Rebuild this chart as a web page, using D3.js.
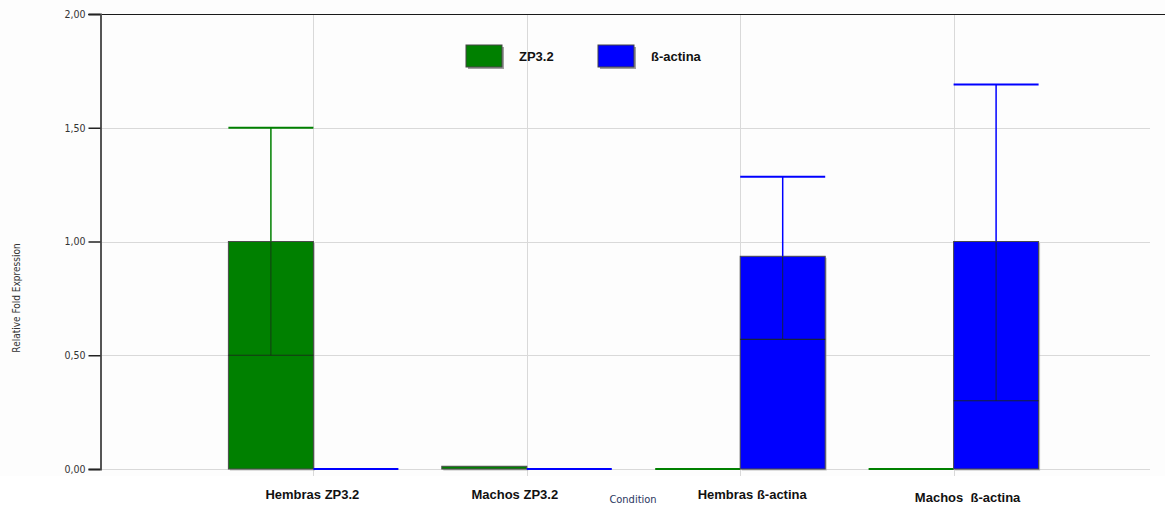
<!DOCTYPE html>
<html>
<head>
<meta charset="utf-8">
<script src="https://cdn.jsdelivr.net/npm/d3@7"></script>
<style>
  body { margin: 0; background: #ffffff; }
  svg { display: block; }
</style>
</head>
<body>
<svg id="chart" width="1165" height="506"></svg>
<script>
// ---- data ----
const categories = ["Hembras ZP3.2", "Machos ZP3.2", "Hembras ß-actina", "Machos  ß-actina"];
const seriesNames = ["ZP3.2", "ß-actina"];
const zp32Values = [1.00, 0.012, 0.0, 0.0];
const zp32ErrUpper = [1.50, null, null, null];
const zp32ErrLower = [0.50, null, null, null];
const actinaValues = [0.0, 0.0, 0.935, 1.00];
const actinaErrUpper = [null, null, 1.285, 1.69];
const actinaErrLower = [null, null, 0.57, 0.30];
const yTicks = [0, 0.5, 1.0, 1.5, 2.0];
const yTickLabels = ["0,00", "0,50", "1,00", "1,50", "2,00"];
const seriesColors = ["#008000", "#0000ff"];

// ---- layout ----
const svg = d3.select("#chart");
const plotLeft = 100, plotRight = 1167, plotTop = 14, plotBottom = 469;
const barW = 85;
// label placement tweaks (layout only) to mirror the original renderer
const labelNudgeX = [-1, -12, 12, 14];
const labelNudgeY = [0, 0, 0, 3];

const x = d3.scalePoint().domain(categories).range([plotLeft, plotRight]).padding(1);
const y = d3.scaleLinear().domain([0, 2]).range([plotBottom, plotTop]);

// plot background
svg.append("rect").attr("x", 0).attr("y", 0).attr("width", 1165).attr("height", 476).attr("fill", "#fdfdfd");

// horizontal gridlines
svg.append("g").selectAll("line").data(yTicks.filter(d => d < 2)).join("line")
  .attr("x1", plotLeft).attr("x2", 1150)
  .attr("y1", d => Math.round(y(d)) + 0.5).attr("y2", d => Math.round(y(d)) + 0.5)
  .attr("stroke", "#d9d9d9").attr("stroke-width", 1);

// vertical gridlines at group centers
svg.append("g").selectAll("line").data(categories).join("line")
  .attr("x1", d => Math.round(x(d)) + 0.5).attr("x2", d => Math.round(x(d)) + 0.5)
  .attr("y1", plotTop).attr("y2", 476)
  .attr("stroke", "#d9d9d9").attr("stroke-width", 1);

// top border
svg.append("line").attr("x1", 88).attr("x2", 1165)
  .attr("y1", plotTop + 0.5).attr("y2", plotTop + 0.5)
  .attr("stroke", "#1a1a1a").attr("stroke-width", 1.2);

// y axis
const yAxis = d3.axisLeft(y).tickValues(yTicks).tickSize(12).tickPadding(3)
  .tickFormat((d, i) => yTickLabels[i]);
const gy = svg.append("g").attr("transform", `translate(${plotLeft + 0.5},0)`).call(yAxis);
gy.select(".domain").attr("stroke", "#555555").attr("stroke-width", 2);
gy.selectAll(".tick line").attr("stroke", "#222222").attr("stroke-width", 1.5);
gy.selectAll(".tick text").attr("fill", "#333333")
  .style("font-family", "'DejaVu Sans Condensed', 'DejaVu Sans', sans-serif").style("font-size", "10.5px");

// bars
const series = [
  { name: seriesNames[0], values: zp32Values, up: zp32ErrUpper, lo: zp32ErrLower, color: seriesColors[0], off: -barW },
  { name: seriesNames[1], values: actinaValues, up: actinaErrUpper, lo: actinaErrLower, color: seriesColors[1], off: 0 }
];

series.forEach(s => {
  const g = svg.append("g");
  categories.forEach((c, i) => {
    const v = s.values[i];
    const x0 = x(c) + s.off;
    const yv = y(v);
    if (v > 0) {
      g.append("rect").attr("x", x0 + 1.5).attr("y", yv + 1.5)
        .attr("width", barW).attr("height", plotBottom - yv)
        .attr("fill", "#9a9a9a").attr("opacity", 0.6);
      g.append("rect").attr("x", x0).attr("y", yv)
        .attr("width", barW).attr("height", Math.max(plotBottom - yv, 1))
        .attr("fill", s.color).attr("stroke", "#4a4a4a").attr("stroke-width", 1);
    } else {
      g.append("line").attr("x1", x0).attr("x2", x0 + barW)
        .attr("y1", plotBottom).attr("y2", plotBottom)
        .attr("stroke", s.color).attr("stroke-width", 2);
    }
    const cx = x0 + barW / 2;
    if (s.up[i] != null) {
      g.append("line").attr("x1", cx).attr("x2", cx).attr("y1", y(s.up[i])).attr("y2", yv)
        .attr("stroke", s.color).attr("stroke-width", 1.5);
      g.append("line").attr("x1", x0).attr("x2", x0 + barW).attr("y1", y(s.up[i])).attr("y2", y(s.up[i]))
        .attr("stroke", s.color).attr("stroke-width", 2);
    }
    if (s.lo[i] != null) {
      g.append("line").attr("x1", cx).attr("x2", cx).attr("y1", yv).attr("y2", y(s.lo[i]))
        .attr("stroke", "#1a2a1a").attr("stroke-width", 1).attr("opacity", 0.8);
      g.append("line").attr("x1", x0).attr("x2", x0 + barW).attr("y1", y(s.lo[i])).attr("y2", y(s.lo[i]))
        .attr("stroke", "#1a2a1a").attr("stroke-width", 1.2).attr("opacity", 0.85);
    }
  });
});

// category labels
svg.append("g").selectAll("text").data(categories).join("text")
  .attr("x", (d, i) => x(d) + labelNudgeX[i]).attr("y", (d, i) => 499 + labelNudgeY[i])
  .attr("text-anchor", "middle")
  .style("font-family", "'Liberation Sans', Arial, sans-serif")
  .style("font-weight", "bold").style("font-size", "13px")
  .style("white-space", "pre")
  .attr("fill", "#111111")
  .text(d => d);

// axis titles
svg.append("text").attr("x", 633).attr("y", 503).attr("text-anchor", "middle")
  .style("font-family", "'DejaVu Sans Condensed', 'DejaVu Sans', sans-serif").style("font-size", "11px")
  .attr("fill", "#2a3560").text("Condition");

svg.append("text").attr("transform", "translate(20,298) rotate(-90)").attr("text-anchor", "middle")
  .style("font-family", "'DejaVu Sans Condensed', 'DejaVu Sans', sans-serif").style("font-size", "10px")
  .attr("fill", "#333333").text("Relative Fold Expression");

// legend
const legendX = [466, 598];
const lg = svg.append("g");
seriesNames.forEach((n, i) => {
  lg.append("rect").attr("x", legendX[i] + 2).attr("y", 47).attr("width", 36).attr("height", 22)
    .attr("fill", "#777777").attr("opacity", 0.7);
  lg.append("rect").attr("x", legendX[i]).attr("y", 45).attr("width", 36).attr("height", 22)
    .attr("fill", seriesColors[i]).attr("stroke", "#444444").attr("stroke-width", 1);
  lg.append("text").attr("x", legendX[i] + 53).attr("y", 61)
    .style("font-family", "'Liberation Sans', Arial, sans-serif")
    .style("font-weight", "bold").style("font-size", "13px")
    .attr("fill", "#111111").text(n);
});
</script>
</body>
</html>
